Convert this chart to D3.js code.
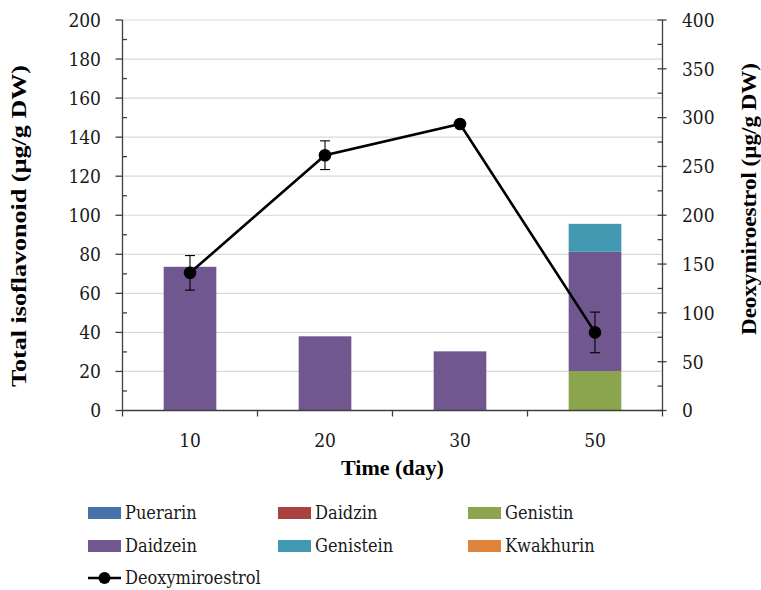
<!DOCTYPE html>
<html>
<head>
<meta charset="utf-8">
<script src="https://cdn.jsdelivr.net/npm/d3@7"></script>
<style>
  html, body { margin: 0; padding: 0; background: #fff; }
  svg { display: block; }
  svg text { font-family: "DejaVu Serif Condensed", "DejaVu Serif", serif; fill: #1a1a1a; }
  svg text.bold { font-family: "Liberation Serif", "Times New Roman", serif; font-weight: bold; fill: #000; }
</style>
</head>
<body>
<svg id="chart" width="761" height="590"></svg>
<script>
// Sampling day (x categories)
const days = ["10", "20", "30", "50"];

// Isoflavonoid content per compound (µg/g DW), stacked bottom to top
const puerarin  = [0, 0, 0, 0];
const daidzin   = [0, 0, 0, 0];
const genistin  = [0, 0, 0, 20.2];
const daidzein  = [73.6, 38.0, 30.3, 61.1];
const genistein = [0, 0, 0, 14.3];
const kwakhurin = [0, 0, 0, 0];

// Deoxymiroestrol (µg/g DW, right axis) with its error
const deoxymiroestrol = [141, 261.5, 293.5, 80];
const deoxyError      = [17.7, 14.7, 0, 20.8];

// Axis ticks
const leftTicks  = [0, 20, 40, 60, 80, 100, 120, 140, 160, 180, 200];
const rightTicks = [0, 50, 100, 150, 200, 250, 300, 350, 400];

const seriesNames  = ["Puerarin", "Daidzin", "Genistin", "Daidzein", "Genistein", "Kwakhurin"];
const seriesValues = [puerarin, daidzin, genistin, daidzein, genistein, kwakhurin];
const seriesColors = ["#4672aa", "#a9423f", "#8aa54e", "#70578f", "#4298b1", "#e0833b"];

const svg = d3.select("#chart");
const plotL = 122.5, plotR = 662.5, plotT = 20, plotB = 410.5;

const x = d3.scaleBand().domain(days).range([plotL, plotR]).padding(0);
const yL = d3.scaleLinear().domain([0, 200]).range([plotB, plotT]);
const yR = d3.scaleLinear().domain([0, 400]).range([plotB, plotT]);
const barW = x.bandwidth() * 0.39;

// Gridlines
svg.append("g").selectAll("line").data(leftTicks).join("line")
  .attr("x1", plotL).attr("x2", plotR)
  .attr("y1", d => yL(d)).attr("y2", d => yL(d))
  .attr("stroke", "#d9d9d9").attr("stroke-width", 1.2);

// Stacked bars
const rows = days.map((d, i) => {
  const r = { day: d };
  seriesNames.forEach((n, k) => r[n] = seriesValues[k][i]);
  return r;
});
const stack = d3.stack().keys(seriesNames)(rows);
svg.append("g").selectAll("g").data(stack).join("g")
  .attr("fill", (s, k) => seriesColors[k])
  .selectAll("rect").data(s => s.filter(p => p[1] - p[0] > 0)).join("rect")
  .attr("x", p => x(p.data.day) + (x.bandwidth() - barW) / 2)
  .attr("width", barW)
  .attr("y", p => yL(p[1]))
  .attr("height", p => yL(p[0]) - yL(p[1]));

const axisColor = "#3f3f3f";
const tickFont = 19;

// Left axis: outward major ticks, inward minor ticks
const gl = svg.append("g");
gl.append("line").attr("x1", plotL).attr("x2", plotL).attr("y1", plotT).attr("y2", plotB)
  .attr("stroke", axisColor).attr("stroke-width", 1.3);
gl.selectAll(".maj").data(leftTicks).join("line").attr("class", "maj")
  .attr("x1", plotL - 7).attr("x2", plotL).attr("y1", d => yL(d)).attr("y2", d => yL(d))
  .attr("stroke", axisColor).attr("stroke-width", 1.3);
gl.selectAll(".min").data(d3.range(10, 200, 20)).join("line").attr("class", "min")
  .attr("x1", plotL).attr("x2", plotL + 4.5).attr("y1", d => yL(d)).attr("y2", d => yL(d))
  .attr("stroke", axisColor).attr("stroke-width", 1.3);
gl.selectAll("text").data(leftTicks).join("text")
  .attr("x", 101).attr("y", d => yL(d)).attr("dy", "0.36em")
  .attr("text-anchor", "end").attr("font-size", tickFont)
  .text(d => d);

// Right axis: crossing major ticks, inward minor ticks
const gr = svg.append("g");
gr.append("line").attr("x1", plotR).attr("x2", plotR).attr("y1", plotT).attr("y2", plotB)
  .attr("stroke", axisColor).attr("stroke-width", 1.3);
gr.selectAll(".maj").data(rightTicks).join("line").attr("class", "maj")
  .attr("x1", plotR - 5).attr("x2", plotR + 4).attr("y1", d => yR(d)).attr("y2", d => yR(d))
  .attr("stroke", axisColor).attr("stroke-width", 1.3);
gr.selectAll(".min").data(d3.range(25, 400, 50)).join("line").attr("class", "min")
  .attr("x1", plotR - 5).attr("x2", plotR).attr("y1", d => yR(d)).attr("y2", d => yR(d))
  .attr("stroke", axisColor).attr("stroke-width", 1.3);
gr.selectAll("text").data(rightTicks).join("text")
  .attr("x", 682).attr("y", d => yR(d)).attr("dy", "0.36em")
  .attr("text-anchor", "start").attr("font-size", tickFont)
  .text(d => d);

// Bottom axis: ticks at category boundaries
const gb = svg.append("g");
gb.append("line").attr("x1", plotL).attr("x2", plotR).attr("y1", plotB).attr("y2", plotB)
  .attr("stroke", axisColor).attr("stroke-width", 1.3);
gb.selectAll(".tk").data(days.concat(["end"])).join("line").attr("class", "tk")
  .attr("x1", (d, i) => i < days.length ? x(d) : plotR)
  .attr("x2", (d, i) => i < days.length ? x(d) : plotR)
  .attr("y1", plotB).attr("y2", plotB + 6)
  .attr("stroke", axisColor).attr("stroke-width", 1.3);
gb.selectAll("text").data(days).join("text")
  .attr("x", d => x(d) + x.bandwidth() / 2).attr("y", 447)
  .attr("text-anchor", "middle").attr("font-size", tickFont)
  .text(d => d);

// Deoxymiroestrol line with error bars and markers
const cx = d => x(d) + x.bandwidth() / 2;
const pts = days.map((d, i) => ({ day: d, v: deoxymiroestrol[i], e: deoxyError[i] }));
svg.append("path").datum(pts)
  .attr("d", d3.line().x(p => cx(p.day)).y(p => yR(p.v)))
  .attr("fill", "none").attr("stroke", "#000").attr("stroke-width", 2.6);
const eb = svg.append("g").attr("stroke", "#000").attr("stroke-width", 1.1);
pts.filter(p => p.e > 0).forEach(p => {
  const c = cx(p.day);
  eb.append("line").attr("x1", c).attr("x2", c).attr("y1", yR(p.v + p.e)).attr("y2", yR(p.v - p.e));
  eb.append("line").attr("x1", c - 5).attr("x2", c + 5).attr("y1", yR(p.v + p.e)).attr("y2", yR(p.v + p.e));
  eb.append("line").attr("x1", c - 5).attr("x2", c + 5).attr("y1", yR(p.v - p.e)).attr("y2", yR(p.v - p.e));
});
svg.append("g").selectAll("circle").data(pts).join("circle")
  .attr("cx", p => cx(p.day)).attr("cy", p => yR(p.v)).attr("r", 6.3).attr("fill", "#000");

// Axis titles
svg.append("text").attr("class", "bold").attr("transform", "translate(26,226) rotate(-90)")
  .attr("text-anchor", "middle").attr("font-size", 21)
  .attr("textLength", 322).attr("lengthAdjust", "spacingAndGlyphs")
  .text("Total isoflavonoid (µg/g DW)");
svg.append("text").attr("class", "bold").attr("transform", "translate(756,199) rotate(-90)")
  .attr("text-anchor", "middle").attr("font-size", 21)
  .attr("textLength", 272).attr("lengthAdjust", "spacingAndGlyphs")
  .text("Deoxymiroestrol (µg/g DW)");
svg.append("text").attr("class", "bold").attr("x", 392.5).attr("y", 475)
  .attr("text-anchor", "middle").attr("font-size", 22)
  .text("Time (day)");

// Legend
const legendFont = 18;
const colX = [88, 278, 468], rowY = [513, 546, 578];
const lg = svg.append("g");
seriesNames.forEach((n, k) => {
  const gx = colX[k % 3], gy = rowY[Math.floor(k / 3)];
  lg.append("rect").attr("x", gx).attr("y", gy - 6).attr("width", 33).attr("height", 12)
    .attr("fill", seriesColors[k]);
  lg.append("text").attr("x", gx + 37).attr("y", gy).attr("dy", "0.36em")
    .attr("font-size", legendFont).text(n);
});
lg.append("line").attr("x1", colX[0]).attr("x2", colX[0] + 33).attr("y1", rowY[2]).attr("y2", rowY[2])
  .attr("stroke", "#000").attr("stroke-width", 2.6);
lg.append("circle").attr("cx", colX[0] + 16.5).attr("cy", rowY[2]).attr("r", 6).attr("fill", "#000");
lg.append("text").attr("x", colX[0] + 37).attr("y", rowY[2]).attr("dy", "0.36em")
  .attr("font-size", legendFont).text("Deoxymiroestrol");
</script>
</body>
</html>
